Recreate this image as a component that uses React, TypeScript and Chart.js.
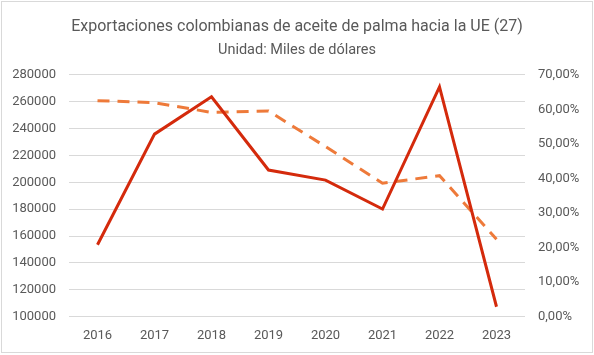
import React, { useEffect, useRef } from "react";
import { Chart, registerables } from "chart.js";

Chart.register(...registerables);

const titleText = "Exportaciones colombianas de aceite de palma hacia la UE (27)";
const subtitleText = "Unidad: Miles de dólares";
const years = ["2016", "2017", "2018", "2019", "2020", "2021", "2022", "2023"];
const exportValues = [153500, 235800, 263600, 209100, 201600, 180100, 271000, 107400];
const sharePercent = [62.5, 61.9, 59.1, 59.5, 49.2, 38.6, 40.8, 22.4];

const FONT = "Roboto, 'Liberation Sans', Arial, sans-serif";
const TITLE_FONT = "Roboto, 'Noto Sans', sans-serif";

const headerPlugin = {
  id: "header",
  afterDraw(chart: any) {
    const ctx = chart.ctx;
    ctx.save();
    ctx.fillStyle = "#595959";
    ctx.textAlign = "center";
    ctx.textBaseline = "alphabetic";
    ctx.font = `16px ${TITLE_FONT}`;
    ctx.fillText(titleText, 297, 31);
    ctx.font = `14.5px ${TITLE_FONT}`;
    ctx.fillText(subtitleText, 297, 54);
    ctx.restore();
  },
};

export default function App() {
  const ref = useRef<HTMLCanvasElement>(null);
  useEffect(() => {
    document.body.style.margin = "0";
    const chart = new Chart(ref.current!, {
      type: "line",
      data: {
        labels: years,
        datasets: [
          {
            label: "Exportaciones",
            data: exportValues,
            borderColor: "#D42A0C",
            borderWidth: 3,
            pointRadius: 0,
            tension: 0,
            yAxisID: "y",
          },
          {
            label: "Participación",
            data: sharePercent,
            borderColor: "#EE7A3A",
            borderWidth: 3,
            borderDash: [12, 8],
            pointRadius: 0,
            tension: 0,
            yAxisID: "y1",
          },
        ],
      },
      options: {
        responsive: false,
        animation: false,
        layout: { padding: { top: 74.7, left: 0, right: 0, bottom: 0 } },
        plugins: {
          legend: { display: false },
          tooltip: { enabled: false },
          title: { display: false },
        },
        scales: {
          x: {
            offset: true,
            grid: { display: false, drawTicks: false },
            border: { display: false },
            ticks: { color: "#595959", font: { family: FONT, size: 13 }, padding: 11 },
            afterFit(s: any) {
              s.height = 355 - 316.7;
            },
          },
          y: {
            position: "left",
            min: 100000,
            max: 280000,
            ticks: {
              stepSize: 20000,
              color: "#595959",
              font: { family: FONT, size: 13 },
              padding: 13,
              callback: (v: any) => String(v),
            },
            grid: { color: "#D9D9D9", lineWidth: 1, drawTicks: false },
            border: { display: false },
            afterFit(s: any) {
              s.width = 69;
            },
          },
          y1: {
            position: "right",
            min: 0,
            max: 70,
            ticks: {
              stepSize: 10,
              color: "#595959",
              font: { family: FONT, size: 13 },
              padding: 13,
              callback: (v: any) => Number(v).toFixed(2).replace(".", ",") + "%",
            },
            grid: { display: false, drawTicks: false },
            border: { display: false },
            afterFit(s: any) {
              s.width = 594 - 525;
            },
          },
        },
      },
      plugins: [headerPlugin],
    });
    return () => chart.destroy();
  }, []);
  return (
    <div style={{ position: "relative", width: 594, height: 355, background: "#fff" }}>
      <canvas ref={ref} width={594} height={355} style={{ display: "block" }} />
      <div
        style={{
          position: "absolute",
          left: 1,
          top: 1,
          width: 590,
          height: 350,
          border: "1px solid #D9D9D9",
          pointerEvents: "none",
        }}
      />
    </div>
  );
}
